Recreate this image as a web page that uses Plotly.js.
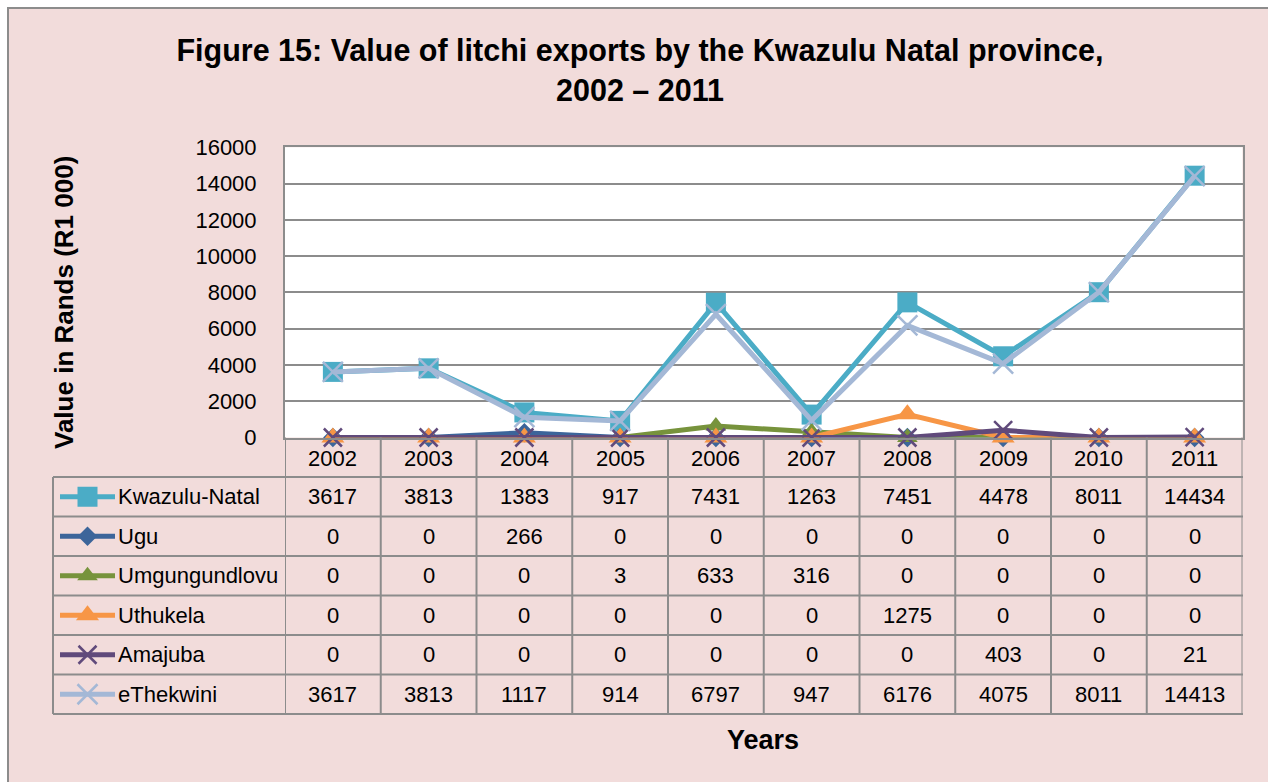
<!DOCTYPE html>
<html>
<head>
<meta charset="utf-8">
<script src="https://cdn.plot.ly/plotly-3.0.1.min.js"></script>
<style>html,body{margin:0;padding:0;background:#fff;}#chart{width:1268px;height:782px;}</style>
</head>
<body>
<div id="chart"></div>
<script>
// ---- data ----
var years = ['2002','2003','2004','2005','2006','2007','2008','2009','2010','2011'];
var seriesNames = ['Kwazulu-Natal','Ugu','Umgungundlovu','Uthukela','Amajuba','eThekwini'];
var kwazuluNatal = [3617,3813,1383,917,7431,1263,7451,4478,8011,14434];
var ugu = [0,0,266,0,0,0,0,0,0,0];
var umgungundlovu = [0,0,0,3,633,316,0,0,0,0];
var uthukela = [0,0,0,0,0,0,1275,0,0,0];
var amajuba = [0,0,0,0,0,0,0,403,0,21];
var eThekwini = [3617,3813,1117,914,6797,947,6176,4075,8011,14413];
var yTicks = [0,2000,4000,6000,8000,10000,12000,14000,16000];

var allSeries = [kwazuluNatal, ugu, umgungundlovu, uthukela, amajuba, eThekwini];

// ---- styles ----
var W = 1268, H = 782;
var FONT = "'Liberation Sans', Arial, sans-serif";
var styles = [
  {color:'#4BACC6', symbol:'square', size:20, lw:5, mline:0},
  {color:'#3C659A', symbol:'diamond', size:15, lw:5, mline:0},
  {color:'#77933C', symbol:'triangle-up', size:18, lw:5, mline:0},
  {color:'#F79646', symbol:'triangle-up', size:20, lw:5, mline:0},
  {color:'#604A7B', symbol:'x-thin', size:18, lw:5, mline:2.5},
  {color:'#A4B8D6', symbol:'x-thin', size:20, lw:5, mline:2.5}
];
function px(p){ return p / W; }
function py(p){ return 1 - p / H; }

var plotL = 285, plotR = 1242.5, plotT = 147.3, plotB = 437.5;
var tableL = 53, tableR = 1243;
var rowTop = 477, rowH = 39.5;
var gridCol = '#8C8C8C';
var TXT = 22;

var traces = [];
allSeries.forEach(function(vals, i){
  var s = styles[i];
  traces.push({
    type:'scatter', mode:'lines+markers', x: years, y: vals, name: seriesNames[i],
    xaxis:'x', yaxis:'y', cliponaxis:false, showlegend:false,
    line:{color:s.color, width:s.lw},
    marker:{symbol:s.symbol, size:s.size, color:s.color, line:{color:s.color, width:s.mline}}
  });
});
// legend samples inside the data table (overlay pixel-space axes)
allSeries.forEach(function(vals, i){
  var s = styles[i];
  var cy = rowTop + rowH * (i + 0.5);
  traces.push({
    type:'scatter', mode:'lines', x:[60,115], y:[cy,cy], xaxis:'x2', yaxis:'y2',
    showlegend:false, hoverinfo:'skip', line:{color:s.color, width:s.lw}
  });
  traces.push({
    type:'scatter', mode:'markers', x:[87.5], y:[cy], xaxis:'x2', yaxis:'y2',
    showlegend:false, hoverinfo:'skip', cliponaxis:false,
    marker:{symbol:s.symbol, size:s.size, color:s.color, line:{color:s.color, width:s.mline}}
  });
});

var shapes = [];
// pink chart area with grey frame
shapes.push({type:'rect', xref:'paper', yref:'paper', x0:px(8), x1:px(W+5), y0:py(H+5), y1:py(8),
  fillcolor:'#F2DCDB', line:{color:'#8C8C8C', width:2}, layer:'below'});
// white plot area
shapes.push({type:'rect', xref:'x domain', yref:'y domain', x0:0, x1:1, y0:0, y1:1,
  fillcolor:'#FFFFFF', line:{width:0}, layer:'below'});
// table horizontal lines
for (var r = 0; r <= seriesNames.length; r++) {
  var yy = rowTop + rowH * r;
  shapes.push({type:'line', xref:'paper', yref:'paper', x0:px(tableL), x1:px(tableR), y0:py(yy), y1:py(yy),
    line:{color:gridCol, width:2}});
}
// table vertical lines
shapes.push({type:'line', xref:'paper', yref:'paper', x0:px(tableL), x1:px(tableL), y0:py(rowTop), y1:py(rowTop + rowH*6),
  line:{color:gridCol, width:2}});
for (var c = 0; c <= years.length; c++) {
  shapes.push({type:'line', xref:'x', yref:'paper', x0:c - 0.5, x1:c - 0.5, y0:py(plotB), y1:py(rowTop + rowH*6),
    line:{color:gridCol, width:2}});
}

var annotations = [];
// y-axis title
annotations.push({xref:'paper', yref:'paper', x:px(64), y:py(303), text:'<b>Value in Rands (R1 000)</b>',
  textangle:-90, showarrow:false, font:{family:FONT, size:26, color:'#000'}, xanchor:'center', yanchor:'middle'});
// x-axis title
annotations.push({xref:'paper', yref:'paper', x:px(763), y:py(740), text:'<b>Years</b>',
  showarrow:false, font:{family:FONT, size:27, color:'#000'}, xanchor:'center', yanchor:'middle'});
// year header row
years.forEach(function(yr, j){
  annotations.push({xref:'x', yref:'paper', x:j, y:py(458), text:yr, showarrow:false,
    font:{family:FONT, size:TXT, color:'#000'}, xanchor:'center', yanchor:'middle'});
});
// series rows
allSeries.forEach(function(vals, i){
  var cy = rowTop + rowH * (i + 0.5);
  annotations.push({xref:'paper', yref:'paper', x:px(116), y:py(cy), text:seriesNames[i], showarrow:false,
    font:{family:FONT, size:TXT, color:'#000'}, xanchor:'left', yanchor:'middle'});
  vals.forEach(function(v, j){
    annotations.push({xref:'x', yref:'paper', x:j, y:py(cy), text:String(v), showarrow:false,
      font:{family:FONT, size:TXT, color:'#000'}, xanchor:'center', yanchor:'middle'});
  });
});

var layout = {
  width:W, height:H, margin:{l:0, r:0, t:0, b:0},
  paper_bgcolor:'#FFFFFF', plot_bgcolor:'rgba(0,0,0,0)',
  showlegend:false,
  title:{text:'<b>Figure 15: Value of litchi exports by the Kwazulu Natal province,<br>2002 – 2011</b>',
    x:px(640), xanchor:'center', y:py(61), yanchor:'top', xref:'paper', yref:'paper',
    font:{family:FONT, size:30.5, color:'#000'}},
  xaxis:{domain:[px(plotL), px(plotR)], type:'category', categoryorder:'array', categoryarray:years,
    range:[-0.5, years.length - 0.5], showticklabels:false, ticks:'', showgrid:false, zeroline:false,
    showline:true, linecolor:gridCol, linewidth:2, mirror:true, fixedrange:true},
  yaxis:{domain:[py(plotB), py(plotT)], range:[0,16000], tickvals:yTicks, ticktext:yTicks.map(String),
    showgrid:true, gridcolor:gridCol, gridwidth:2, zeroline:false, showline:true, linecolor:gridCol, linewidth:2,
    mirror:true, ticks:'', ticklabelstandoff:22, tickfont:{family:FONT, size:TXT, color:'#000'}, fixedrange:true},
  xaxis2:{domain:[0,1], range:[0,W], visible:false, anchor:'y2', fixedrange:true},
  yaxis2:{domain:[0,1], range:[H,0], visible:false, anchor:'x2', fixedrange:true},
  shapes:shapes, annotations:annotations
};

Plotly.newPlot('chart', traces, layout, {staticPlot:true, displayModeBar:false});
</script>
</body>
</html>
